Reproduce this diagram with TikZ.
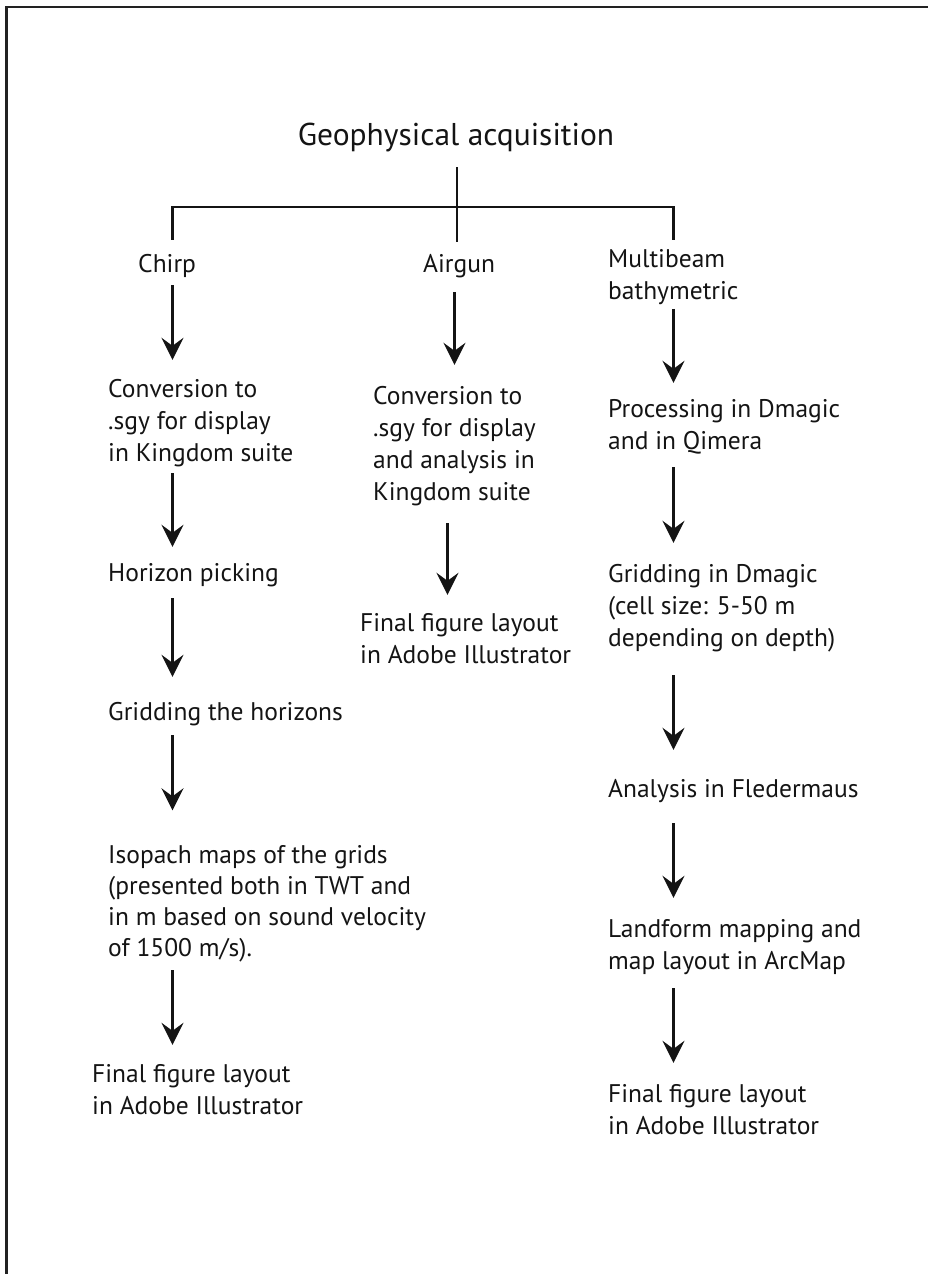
\documentclass[tikz,border=0pt]{standalone}
\usepackage{fontspec}
\setmainfont{PT Sans}
\usetikzlibrary{arrows.meta,calc}
\definecolor{framecol}{RGB}{34,34,34}
\definecolor{inkcol}{RGB}{20,20,20}
\newcommand{\mlines}[1]{\begin{tabular}[t]{@{}l@{}}#1\end{tabular}}
\tikzset{
  txt/.style={anchor=base west, inner sep=0pt, text=inkcol, font=\fontsize{25.5}{32}\selectfont},
  arr/.style={draw=inkcol, line width=2.2pt, -{Stealth[length=22pt,width=22pt,inset=8pt]}},
  tree/.style={draw=inkcol, line width=2.5pt, line join=miter}
}
\begin{document}
\begin{tikzpicture}[x=1pt,y=-1pt]
\useasboundingbox (0,0) rectangle (928,1274);
\draw[framecol, line width=2.6pt] (6.5,1274) -- (6.5,7) -- (928,7);

\coordinate (xL) at (172.5,0);
\coordinate (xM1) at (454.5,0);
\coordinate (xM2) at (447.5,0);
\coordinate (xR) at (673.5,0);
\coordinate (hub) at (457,207);

\node[anchor=base, inner sep=0pt, text=inkcol, font=\fontsize{31.5}{36}\selectfont] (title) at (456,145) {Geophysical acquisition};

% left column
\node[txt] (chirp) at (138,272) {\mlines{Chirp}};
\node[txt] (conv1) at (108,397) {\mlines{Conversion to\\.sgy for display\\in Kingdom suite}};
\node[txt] (hor) at (108,581) {\mlines{Horizon picking}};
\node[txt] (grid1) at (108,720) {\mlines{Gridding the horizons}};
\node[txt, font=\fontsize{25.5}{31.3}\selectfont] (iso) at (108,863) {\mlines{Isopach maps of the grids\\(presented both in TWT and\\in m based on sound velocity\\of 1500 m/s).}};
\node[txt] (fin1) at (92,1082) {\mlines{Final figure layout\\in Adobe Illustrator}};

% middle column
\node[txt] (air) at (423,272) {\mlines{Airgun}};
\node[txt] (conv2) at (373,404) {\mlines{Conversion to\\.sgy for display\\and analysis in\\Kingdom suite}};
\node[txt] (fin2) at (360,631) {\mlines{Final figure layout\\in Adobe Illustrator}};

% right column
\node[txt] (multi) at (608,267) {\mlines{Multibeam\\bathymetric}};
\node[txt] (proc) at (608,417) {\mlines{Processing in Dmagic\\and in Qimera}};
\node[txt] (grid2) at (608,582) {\mlines{Gridding in Dmagic\\(cell size: 5-50 m\\depending on depth)}};
\node[txt] (ana) at (608,797) {\mlines{Analysis in Fledermaus}};
\node[txt] (land) at (608,937) {\mlines{Landform mapping and\\map layout in ArcMap}};
\node[txt] (fin3) at (608,1102) {\mlines{Final figure layout\\in Adobe Illustrator}};

% tree
\draw[tree] ($(chirp.north -| xL)+(0,-9.6)$) |- (hub) -| ($(multi.north -| xR)+(0,-4.6)$);
\draw[tree] ($(title.base -| hub)+(0,22)$) -- ($(air.north -| hub)+(0,-7.6)$);

% arrows left
\draw[arr] ($(chirp.south -| xL)+(0,3.4)$) -- ($(conv1.north -| xL)+(0,-14.6)$);
\draw[arr] ($(conv1.south -| xL)+(0,2.4)$) -- ($(hor.north -| xL)+(0,-11.6)$);
\draw[arr] ($(hor.south -| xL)+(0,7.4)$) -- ($(grid1.north -| xL)+(0,-20.6)$);
\draw[arr] ($(grid1.south -| xL)+(0,5.4)$) -- ($(iso.north -| xL)+(0,-30.6)$);
\draw[arr] ($(iso.south -| xL)+(0,3.7)$) -- ($(fin1.north -| xL)+(0,-14.6)$);
% arrows middle
\draw[arr] ($(air.south -| xM1)+(0,10.4)$) -- ($(conv2.north -| xM1)+(0,-16.6)$);
\draw[arr] ($(conv2.south -| xM2)+(0,13.4)$) -- ($(fin2.north -| xM2)+(0,-13.6)$);
% arrows right
\draw[arr] ($(multi.south -| xR)+(0,0)$) -- ($(proc.north -| xR)+(0,-11.6)$);
\draw[arr] ($(proc.south -| xR)+(0,8.4)$) -- ($(grid2.north -| xR)+(0,-16.6)$);
\draw[arr] ($(grid2.south -| xR)+(0,19.4)$) -- ($(ana.north -| xR)+(0,-24.6)$);
\draw[arr] ($(ana.south -| xR)+(0,16.4)$) -- ($(land.north -| xR)+(0,-16.6)$);
\draw[arr] ($(land.south -| xR)+(0,9.4)$) -- ($(fin3.north -| xR)+(0,-16.6)$);
\end{tikzpicture}
\end{document}
